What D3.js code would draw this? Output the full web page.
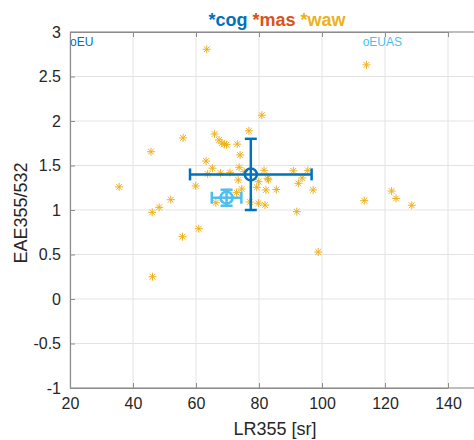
<!DOCTYPE html>
<html><head><meta charset="utf-8">
<script src="https://cdn.jsdelivr.net/npm/d3@7"></script>
<style>body{margin:0;background:#fff;} svg{display:block;font-family:"Liberation Sans",Arial,sans-serif;}</style>
</head><body>
<script>
// waw points (LR355, EAE355/532)
const wawX = [35.6,45.7,46.1,48.3,52.0,46.2,55.7,60.9,55.9,63.2,59.9,80.9,65.9,76.8,67.3,68.2,69.0,69.7,73.1,74.0,73.7,65.2,63.7,67.8,70.8,75.3,81.6,90.9,95.5,73.4,79.9,82.7,74.5,79.3,82.2,85.5,72.9,92.5,93.7,66.3,77.1,79.8,81.9,92.0,97.2,113.4,122.1,123.5,128.5,98.8,114.1,63.4,83.0];
const wawY = [1.26,1.655,0.974,1.03,1.116,0.25,0.70,0.79,1.81,1.55,1.27,2.065,1.854,1.89,1.787,1.753,1.738,1.734,1.74,1.618,1.48,1.47,1.405,1.415,1.42,1.43,1.446,1.44,1.445,1.337,1.318,1.356,1.236,1.255,1.225,1.23,1.195,1.30,1.36,1.082,1.09,1.077,1.056,0.982,1.225,1.105,1.213,1.13,1.053,0.528,2.63,2.806,1.34];
// mean ± std groups
const grpNames = ["EU","EUAS"];
const grpX = [77.4,69.7];
const grpY = [1.40,1.138];
const grpXerr = [19.3,4.7];
const grpYerr = [0.40,0.09];
const grpColors = ["#0072BD","#4DBEEE"];
const xTicks = [20,40,60,80,100,120,140];
const yTicks = [-1,-0.5,0,0.5,1,1.5,2,2.5,3];
const titleParts = [["*cog","#0072BD"],["*mas","#D95319"],["*waw","#EDB120"]];

const W=474,H=440;
const svg=d3.select("body").append("svg").attr("width",W).attr("height",H);
const x=d3.scaleLinear().domain([20,140]).range([70,448]);
const y=d3.scaleLinear().domain([-1,3]).range([388,32]);
const xR=x(150);

// grid
svg.append("g").selectAll("line").data(xTicks).join("line")
 .attr("x1",d=>x(d)).attr("x2",d=>x(d)).attr("y1",y(-1)).attr("y2",y(3))
 .attr("stroke","#e3e3e3").attr("stroke-width",1);
svg.append("g").selectAll("line").data(yTicks).join("line")
 .attr("x1",x(20)).attr("x2",xR).attr("y1",d=>y(d)).attr("y2",d=>y(d))
 .attr("stroke","#e3e3e3").attr("stroke-width",1);

// axes
const fmt=d=>String(d);
const ax=svg.append("g").attr("transform",`translate(0,${y(-1)})`)
 .call(d3.axisBottom(x).tickValues(xTicks).tickSize(-5).tickPadding(10).tickSizeOuter(0).tickFormat(fmt));
const axT=svg.append("g").attr("transform",`translate(0,${y(3)})`)
 .call(d3.axisTop(x).tickValues(xTicks).tickSize(-5).tickFormat("").tickSizeOuter(0));
const ayL=svg.append("g").attr("transform",`translate(${x(20)},0)`)
 .call(d3.axisLeft(y).tickValues(yTicks).tickSize(-5).tickPadding(9).tickSizeOuter(0).tickFormat(fmt));
[ax,axT,ayL].forEach(g=>{
  g.select(".domain").attr("stroke","#8c8c8c").attr("stroke-width",1.2);
  g.selectAll(".tick line").attr("stroke","#8c8c8c");
  g.selectAll("text").attr("fill","#262626").attr("font-size",16).attr("font-family","Liberation Sans, Arial, sans-serif");
});
svg.append("line").attr("x1",x(20)).attr("x2",xR).attr("y1",y(-1)).attr("y2",y(-1)).attr("stroke","#8c8c8c").attr("stroke-width",1.2);
svg.append("line").attr("x1",x(20)).attr("x2",xR).attr("y1",y(3)).attr("y2",y(3)).attr("stroke","#8c8c8c").attr("stroke-width",1.2);

// waw stars
const star=(g,cx,cy,r,col)=>{
  const p=g.append("g").attr("transform",`translate(${cx},${cy})`).attr("stroke",col).attr("stroke-width",1);
  p.append("line").attr("x1",-r).attr("x2",r).attr("y1",0).attr("y2",0);
  p.append("line").attr("y1",-r).attr("y2",r).attr("x1",0).attr("x2",0);
  const q=r*0.72;
  p.append("line").attr("x1",-q).attr("x2",q).attr("y1",-q).attr("y2",q);
  p.append("line").attr("x1",-q).attr("x2",q).attr("y1",q).attr("y2",-q);
};
const sg=svg.append("g");
wawX.forEach((d,i)=>star(sg,x(d),y(wawY[i]),4,"#EDB120"));

// group error bars
grpX.forEach((gx,i)=>{
  const g=svg.append("g").attr("stroke",grpColors[i]).attr("fill","none").attr("stroke-width",2.5);
  const cx=x(gx),cy=y(grpY[i]);
  const x0=x(gx-grpXerr[i]),x1=x(gx+grpXerr[i]);
  const y0=y(grpY[i]-grpYerr[i]),y1=y(grpY[i]+grpYerr[i]);
  g.append("line").attr("x1",x0).attr("x2",x1).attr("y1",cy).attr("y2",cy);
  g.append("line").attr("x1",cx).attr("x2",cx).attr("y1",y0).attr("y2",y1);
  const c=6;
  g.append("line").attr("x1",x0).attr("x2",x0).attr("y1",cy-c).attr("y2",cy+c);
  g.append("line").attr("x1",x1).attr("x2",x1).attr("y1",cy-c).attr("y2",cy+c);
  g.append("line").attr("x1",cx-c).attr("x2",cx+c).attr("y1",y0).attr("y2",y0);
  g.append("line").attr("x1",cx-c).attr("x2",cx+c).attr("y1",y1).attr("y2",y1);
  g.append("circle").attr("cx",cx).attr("cy",cy).attr("r",6).attr("fill","none");
});

// group labels
svg.append("text").attr("x",x(20)).attr("y",46).attr("fill",grpColors[0]).attr("font-size",12).text("o"+grpNames[0]);
svg.append("text").attr("x",x(112.9)).attr("y",46).attr("fill",grpColors[1]).attr("font-size",12).text("o"+grpNames[1]);

// title
const t=svg.append("text").attr("x",277).attr("y",26).attr("text-anchor","middle").attr("font-size",18).attr("font-weight","bold");
titleParts.forEach((p,i)=>t.append("tspan").attr("fill",p[1]).text((i?" ":"")+p[0]));

// axis labels
svg.append("text").attr("x",275).attr("y",435).attr("text-anchor","middle").attr("font-size",18).attr("fill","#262626").text("LR355 [sr]");
svg.append("text").attr("transform","translate(27,213) rotate(-90)").attr("text-anchor","middle").attr("font-size",18).attr("fill","#262626").text("EAE355/532");
</script>
</body></html>
